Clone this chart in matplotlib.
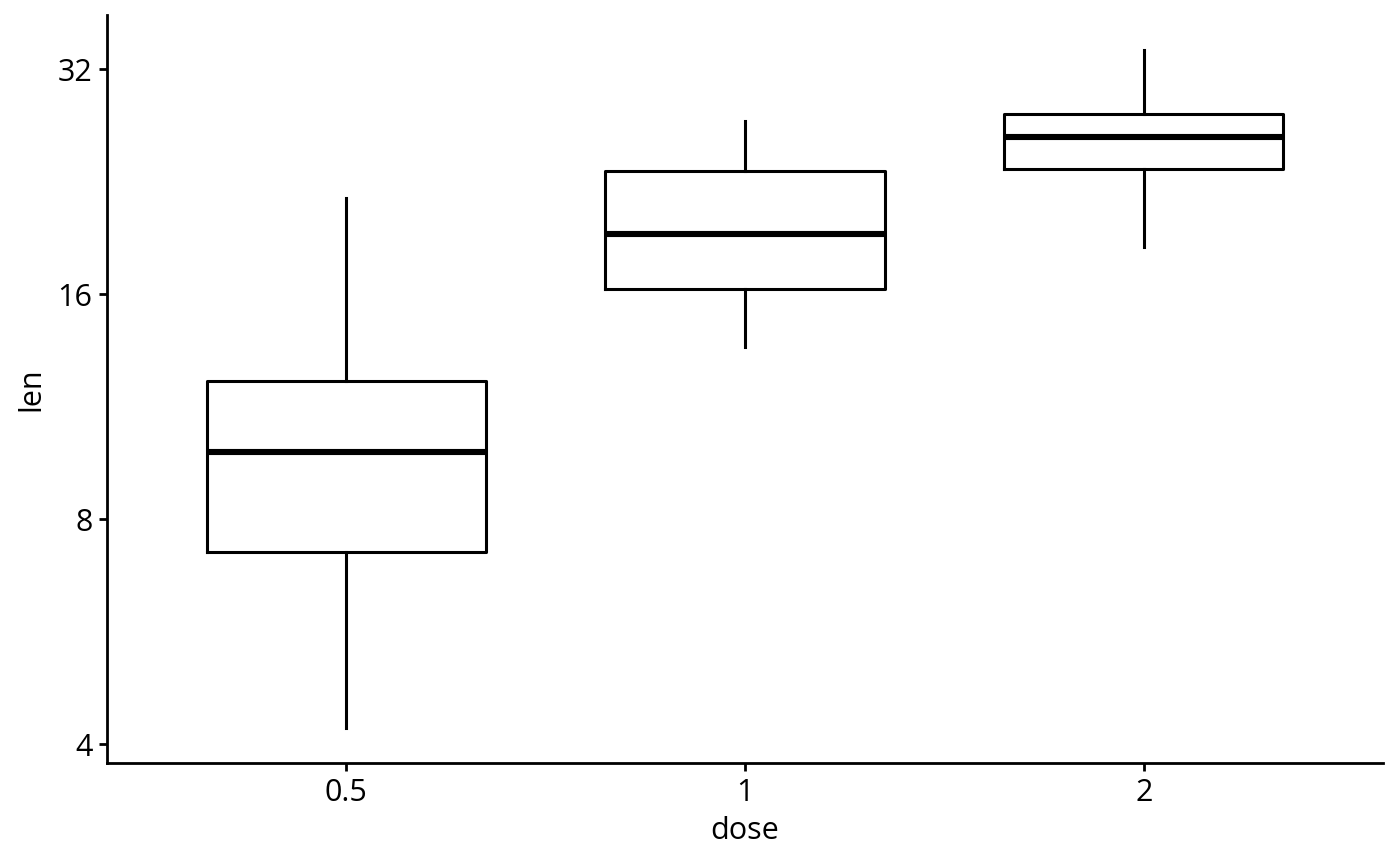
import matplotlib.pyplot as plt

plt.rcParams['font.family'] = ['Open Sans', 'DejaVu Sans']

doses = ['0.5', '1', '2']
# box statistics (len, log2 scale)
whislo = [4.2, 13.6, 18.5]
q1 = [7.225, 16.25, 23.525]
med = [9.85, 19.25, 25.95]
q3 = [12.25, 23.375, 27.825]
whishi = [21.5, 27.3, 33.9]
y_ticks = [4, 8, 16, 32]

stats = []
for i in range(len(doses)):
    stats.append({'whislo': whislo[i], 'q1': q1[i], 'med': med[i], 'q3': q3[i],
                  'whishi': whishi[i], 'label': doses[i]})

fig = plt.figure(figsize=(7, 4.33), dpi=200)
ax = fig.add_axes([0.0764, 0.119, 0.9116, 0.8637])

ax.bxp(stats, positions=[1, 2, 3], widths=0.7, showcaps=False, showfliers=False,
       boxprops=dict(color='black', linewidth=1.1),
       whiskerprops=dict(color='black', linewidth=1.1),
       medianprops=dict(color='black', linewidth=2.2))

ax.set_yscale('log', base=2)
ax.set_yticks(y_ticks)
ax.set_yticklabels([str(t) for t in y_ticks])
ax.minorticks_off()
ax.set_ylim(3.774, 37.8)
ax.set_xlim(0.4, 3.6)

for s in ['top', 'right']:
    ax.spines[s].set_visible(False)
for s in ['left', 'bottom']:
    ax.spines[s].set_linewidth(1.0)
ax.tick_params(length=2.75, width=1.0, labelsize=11, colors='black', pad=2.5)
ax.set_xlabel('dose', fontsize=11, labelpad=3)
ax.set_ylabel('len', fontsize=11, labelpad=4)

fig.savefig('out.png', dpi=200)
